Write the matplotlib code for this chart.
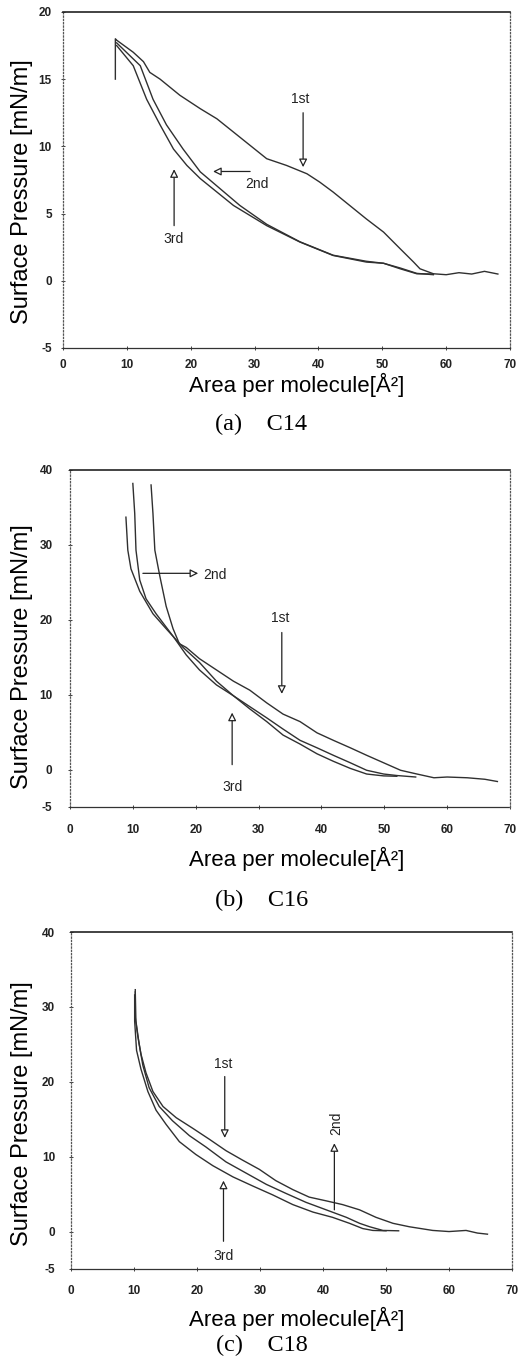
import matplotlib
matplotlib.use('Agg')
import matplotlib.pyplot as plt

plt.rcParams['axes.unicode_minus'] = False

xticks = [0, 10, 20, 30, 40, 50, 60, 70]
yticks = [-5, 0, 5, 10, 15, 20]
yticks_bc = [-5, 0, 10, 20, 30, 40]

# (a) C14
c14_1st_x = [8.2, 8.2, 8.4, 11.0, 12.6, 13.6, 15.2, 18.3, 21.5, 24.1, 26.7, 29.3, 31.9, 35.0, 38.2,
             40.2, 42.3, 44.9, 47.5, 50.2, 52.8, 54.9, 55.9, 58.0, 60.0, 62.0, 64.0, 66.0, 68.1]
c14_1st_y = [15.0, 18.0, 17.9, 17.0, 16.3, 15.5, 15.0, 13.8, 12.8, 12.05, 11.06, 10.07, 9.08, 8.58, 7.96,
             7.34, 6.6, 5.6, 4.6, 3.62, 2.38, 1.39, 0.89, 0.52, 0.45, 0.6, 0.5, 0.7, 0.5]
c14_2nd_x = [8.4, 12.1, 14.1, 16.2, 18.8, 21.5, 24.6, 27.7, 31.9, 37.1, 42.3, 47.5, 50.2, 52.8, 55.4, 58.0]
c14_2nd_y = [17.7, 16.0, 13.5, 11.6, 9.8, 8.1, 6.85, 5.6, 4.2, 2.9, 1.9, 1.45, 1.3, 0.95, 0.55, 0.45]
c14_3rd_x = [8.4, 11.0, 13.1, 15.2, 17.3, 19.4, 21.5, 24.1, 26.7, 31.9, 37.1, 42.3, 47.5, 50.2, 52.8, 55.4, 58.0]
c14_3rd_y = [17.5, 16.0, 13.5, 11.6, 9.8, 8.58, 7.6, 6.6, 5.6, 4.1, 2.88, 1.88, 1.39, 1.3, 0.89, 0.52, 0.5]

# (b) C16
c16_1st_x = [12.9, 13.2, 13.5, 14.3, 15.3, 16.4, 17.4, 18.5, 20.6, 23.3, 26.0, 28.6, 31.3, 33.9, 36.6,
             39.3, 41.9, 44.6, 47.2, 49.9, 52.6, 55.2, 57.9, 60.0, 63.2, 66.0, 68.0]
c16_1st_y = [38.0, 34.2, 29.3, 25.8, 21.8, 18.8, 16.8, 16.3, 14.8, 13.3, 11.8, 10.6, 8.9, 7.4, 6.4,
             4.9, 3.9, 2.9, 1.9, 0.9, -0.1, -0.6, -1.1, -1.0, -1.1, -1.3, -1.6]
c16_2nd_x = [10.0, 10.3, 10.5, 11.1, 12.1, 13.7, 16.4, 18.5, 20.6, 23.3, 26.0, 28.6, 31.3, 33.9, 36.6,
             39.3, 41.9, 44.6, 47.2, 49.9, 52.0, 55.0]
c16_2nd_y = [38.2, 34.2, 29.3, 25.3, 22.8, 20.8, 17.8, 15.3, 13.3, 11.3, 9.85, 8.4, 6.9, 5.4, 3.9,
             2.9, 1.9, 0.9, -0.1, -0.6, -0.8, -1.0]
c16_3rd_x = [8.9, 9.2, 9.7, 11.1, 13.2, 15.3, 18.0, 20.6, 23.3, 26.0, 28.6, 31.3, 33.9, 36.6, 39.3,
             41.9, 44.6, 47.2, 49.9, 52.0]
c16_3rd_y = [33.7, 29.3, 26.8, 23.8, 20.8, 18.8, 16.3, 14.3, 11.8, 9.85, 8.1, 6.4, 4.6, 3.4, 2.1,
             1.1, 0.15, -0.6, -0.85, -0.9]

# (c) C18
c18_1st_x = [10.2, 10.2, 10.6, 11.1, 11.9, 13.0, 14.6, 16.7, 19.3, 22.0, 24.6, 27.2, 29.9, 32.5, 35.2,
             37.8, 40.5, 43.1, 45.8, 48.4, 51.1, 53.7, 57.4, 60.0, 62.7, 64.5, 66.1]
c18_1st_y = [32.3, 28.6, 26.1, 23.7, 21.2, 18.7, 16.7, 15.2, 13.8, 12.3, 10.8, 9.55, 8.3, 6.8, 5.6,
             4.6, 4.1, 3.6, 2.9, 1.9, 1.1, 0.64, 0.15, 0.0, 0.15, -0.2, -0.35]
c18_2nd_x = [10.2, 10.3, 10.8, 11.4, 12.4, 14.0, 16.1, 18.8, 21.4, 24.6, 27.8, 31.0, 34.1, 37.3, 40.5,
             43.7, 45.8, 47.4, 49.5, 52.0]
c18_2nd_y = [32.0, 28.1, 25.1, 22.2, 19.2, 16.7, 14.8, 12.8, 11.3, 9.3, 7.8, 6.3, 5.1, 3.9, 2.9,
             1.9, 1.1, 0.64, 0.15, 0.1]
c18_3rd_x = [10.1, 10.1, 10.4, 11.1, 12.2, 13.5, 15.1, 17.2, 19.8, 22.5, 25.7, 28.8, 32.0, 35.2, 38.4,
             41.5, 44.2, 46.3, 47.9, 50.0]
c18_3rd_y = [31.6, 28.1, 24.2, 21.7, 18.7, 16.2, 14.3, 12.0, 10.3, 8.8, 7.3, 6.1, 4.9, 3.6, 2.6,
             1.9, 1.1, 0.4, 0.15, 0.1]

sans = 'Liberation Sans'
serif = 'Liberation Serif'
line_kw = dict(color='#303030', lw=1.0)

fig = plt.figure(figsize=(5.18, 13.71), dpi=100)
fig.patch.set_facecolor('white')


def setup(ax, yt, ylim, pad, xl_pos, yl_pos):
    ax.set_xlim(0, 70)
    ax.set_ylim(*ylim)
    ax.set_xticks(xticks)
    ax.set_xticklabels([str(t) for t in xticks], family=sans, fontweight='bold', fontsize=8.5)
    ax.set_yticks(yt)
    ax.set_yticklabels([str(t) for t in yt], family=sans, fontweight='bold', fontsize=8.5)
    ax.tick_params(direction='inout', length=3, width=0.6, pad=pad, colors='#222')
    for side in ['left', 'right']:
        ax.spines[side].set_linestyle(':')
        ax.spines[side].set_color('#555')
        ax.spines[side].set_linewidth(0.9)
    ax.spines['top'].set_color('#222')
    ax.spines['top'].set_linewidth(1.2)
    ax.spines['bottom'].set_linestyle((0, (3, 1)))
    ax.spines['bottom'].set_color('#333')
    ax.spines['bottom'].set_linewidth(0.9)
    ax.set_xlabel('Area per molecule[Å²]', family=sans, fontsize=16)
    ax.set_ylabel('Surface Pressure [mN/m]', family=sans, fontsize=17)
    ax.xaxis.set_label_coords(*xl_pos)
    ax.yaxis.set_label_coords(*yl_pos)


def arrow(ax, text_xy, start, end, text, rot=0):
    ax.annotate('', xy=end, xytext=start,
                arrowprops=dict(arrowstyle='-|>', fc='white', ec='#222', lw=0.9, mutation_scale=12,
                                shrinkA=0, shrinkB=0))
    ax.text(text_xy[0], text_xy[1], text, family=sans, fontsize=10, ha='center', va='center',
            rotation=rot, color='#222')


# (a) C14
ax1 = fig.add_axes([0.1216, 0.7462, 0.863, 0.2451])
ax1.plot(c14_1st_x, c14_1st_y, **line_kw)
ax1.plot(c14_2nd_x, c14_2nd_y, **line_kw)
ax1.plot(c14_3rd_x, c14_3rd_y, **line_kw)
setup(ax1, yticks, (-5, 20), 6.5, (0.523, -0.074), (-0.067, 0.464))
arrow(ax1, (37.1, 13.5), (37.6, 12.5), (37.6, 8.45), '1st')
arrow(ax1, (30.3, 7.2), (29.3, 8.13), (23.5, 8.13), '2nd')
arrow(ax1, (17.3, 3.1), (17.4, 4.1), (17.4, 8.3), '3rd')
fig.text(0.504, 1 - 424 / 1371, '(a)    C14', family=serif, fontsize=17.5, ha='center', va='center')

# (b) C16
ax2 = fig.add_axes([0.1351, 0.4114, 0.8494, 0.2458])
ax2.plot(c16_1st_x, c16_1st_y, **line_kw)
ax2.plot(c16_2nd_x, c16_2nd_y, **line_kw)
ax2.plot(c16_3rd_x, c16_3rd_y, **line_kw)
setup(ax2, yticks_bc, (-5, 40), 11, (0.516, -0.119), (-0.084, 0.445))
arrow(ax2, (23.0, 26.0), (11.6, 26.2), (20.4, 26.2), '2nd')
arrow(ax2, (33.4, 20.3), (33.7, 18.3), (33.7, 10.1), '1st')
arrow(ax2, (25.8, -2.3), (25.8, 0.65), (25.8, 7.6), '3rd')
fig.text(0.506, 1 - 900 / 1371, '(b)    C16', family=serif, fontsize=17.5, ha='center', va='center')

# (c) C18
ax3 = fig.add_axes([0.1371, 0.0744, 0.8514, 0.2458])
ax3.plot(c18_1st_x, c18_1st_y, **line_kw)
ax3.plot(c18_2nd_x, c18_2nd_y, **line_kw)
ax3.plot(c18_3rd_x, c18_3rd_y, **line_kw)
setup(ax3, yticks_bc, (-5, 40), 10, (0.512, -0.113), (-0.086, 0.46))
arrow(ax3, (24.1, 22.4), (24.4, 20.7), (24.4, 12.5), '1st')
arrow(ax3, (24.2, -3.3), (24.2, -1.3), (24.2, 6.8), '3rd')
arrow(ax3, (42.1, 14.4), (41.8, 2.9), (41.8, 11.8), '2nd', rot=90)
fig.text(0.506, 1 - 1345 / 1371, '(c)    C18', family=serif, fontsize=17.5, ha='center', va='center')

fig.savefig('out.png', dpi=100, facecolor='white')
